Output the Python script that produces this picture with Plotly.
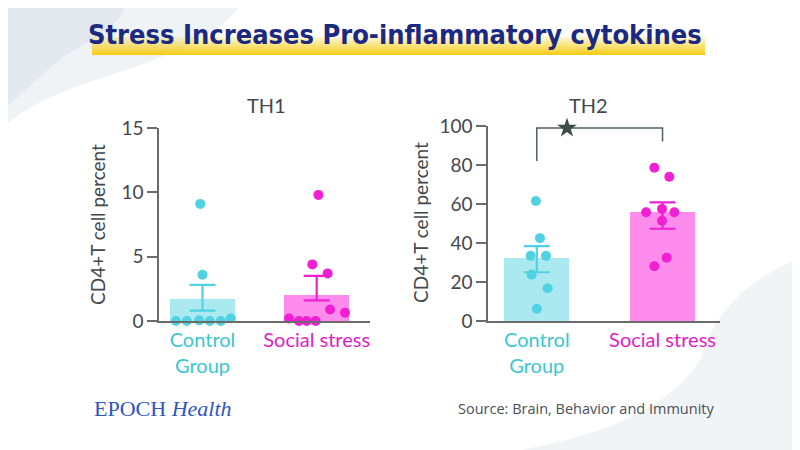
import plotly.graph_objects as go

# TH1 panel (percent of CD4+T cells)
groups = ["Control Group", "Social stress"]
th1_means = [1.7, 2.0]
th1_err_up = [1.1, 1.5]
th1_err_down = [0.9, 0.4]
th1_control_pts = [9.1, 3.6, 0.0, 0.0, 0.05, 0.0, 0.0, 0.2]
th1_control_jitter = [-0.02, 0.0, -0.233, -0.137, -0.029, 0.064, 0.16, 0.248]
th1_social_pts = [9.8, 4.4, 3.7, 0.9, 0.65, 0.2, 0.0, 0.0, 0.0]
th1_social_jitter = [0.015, -0.038, 0.096, 0.117, 0.248, -0.242, -0.155, -0.088, -0.009]

# TH2 panel
th2_means = [32.4, 55.9]
th2_err_up = [6.0, 4.9]
th2_err_down = [7.4, 8.6]
th2_control_pts = [61.5, 42.5, 33.4, 33.4, 23.8, 16.8, 6.3]
th2_control_jitter = [-0.007, 0.025, -0.049, 0.073, -0.041, 0.086, 0.0]
th2_social_pts = [78.6, 74.0, 55.8, 57.5, 55.8, 51.4, 28.1, 32.5]
th2_social_jitter = [-0.065, 0.054, -0.131, -0.004, 0.094, -0.004, -0.065, 0.033]

# significance bracket for TH2
bracket_x = [0, 0, 1, 1]
bracket_y = [82, 99, 99, 92]
star_x = [0.24]
star_y = [99]

CYAN_BAR = "#abe9f1"
CYAN = "#50d2e2"
CYAN_TXT = "#3cc6d0"
PINK_BAR = "#ff8cec"
PINK = "#f020d2"
PINK_TXT = "#e01ec4"
GREY = "#43484d"
FONT = "Lato"

# page body has an 8px margin, so the figure is a bit smaller and shifted
OFF = 8
W, H = 800 - OFF, 450 - OFF


def px(x):
    return (x - OFF) / W


def py(y):
    return 1 - (y - OFF) / H


fig = go.Figure()


def add_panel(xa, ya, means, up, down, ctrl, ctrl_j, soc, soc_j, bw):
    fig.add_trace(go.Bar(x=[0, 1], y=means, width=bw,
                         marker=dict(color=[CYAN_BAR, PINK_BAR], line_width=0),
                         xaxis=xa, yaxis=ya, showlegend=False))
    for i, c in enumerate([CYAN, PINK]):
        fig.add_trace(go.Scatter(x=[i], y=[means[i]], mode="markers",
                                 marker=dict(size=1, color="rgba(0,0,0,0)"),
                                 error_y=dict(type="data", symmetric=False,
                                              array=[up[i]], arrayminus=[down[i]],
                                              color=c, thickness=2.2, width=13),
                                 xaxis=xa, yaxis=ya, showlegend=False,
                                 cliponaxis=False))
    fig.add_trace(go.Scatter(x=[0 + j for j in ctrl_j], y=ctrl, mode="markers",
                             marker=dict(size=10, color=CYAN),
                             xaxis=xa, yaxis=ya, showlegend=False, cliponaxis=False))
    fig.add_trace(go.Scatter(x=[1 + j for j in soc_j], y=soc, mode="markers",
                             marker=dict(size=10, color=PINK),
                             xaxis=xa, yaxis=ya, showlegend=False, cliponaxis=False))


add_panel("x", "y", th1_means, th1_err_up, th1_err_down,
          th1_control_pts, th1_control_jitter, th1_social_pts, th1_social_jitter, 0.57)
add_panel("x2", "y2", th2_means, th2_err_up, th2_err_down,
          th2_control_pts, th2_control_jitter, th2_social_pts, th2_social_jitter, 0.517)

fig.add_trace(go.Scatter(x=bracket_x, y=bracket_y, mode="lines",
                         line=dict(color="#51605f", width=1.5),
                         xaxis="x2", yaxis="y2", showlegend=False, cliponaxis=False))
fig.add_trace(go.Scatter(x=star_x, y=star_y, mode="markers",
                         marker=dict(symbol="star", size=15, color="#3e4b4b"),
                         xaxis="x2", yaxis="y2", showlegend=False, cliponaxis=False))

ticktext = ["<span style='color:%s'>Control<br>Group</span>" % CYAN_TXT,
            "<span style='color:%s'>Social stress</span>" % PINK_TXT]

xcommon = dict(tickmode="array", tickvals=[0, 1], ticktext=ticktext,
               showline=True, linecolor="#6b6b6b", linewidth=1.5,
               showgrid=False, zeroline=False, ticks="", automargin=False,
               tickfont=dict(family=FONT, size=20))
ycommon = dict(showline=True, linecolor="#6b6b6b", linewidth=1.5,
               showgrid=False, zeroline=False, ticks="outside", ticklen=10,
               tickwidth=1.5, tickcolor="#6b6b6b", automargin=False,
               tickfont=dict(family=FONT, size=19, color=GREY))

# background decoration
shapes = [
    dict(type="path", xref="paper", yref="paper", layer="below", line_width=0,
         fillcolor="#eff3f6",
         path="M %f,%f L %f,%f C %f,%f %f,%f %f,%f C %f,%f %f,%f %f,%f Z" % (
             px(0), py(0), px(245), py(0), px(215), py(45), px(140), py(65),
             px(80), py(85), px(40), py(100), px(15), py(115), px(0), py(130))),
    dict(type="path", xref="paper", yref="paper", layer="below", line_width=0,
         fillcolor="#e3e9ef",
         path="M %f,%f L %f,%f C %f,%f %f,%f %f,%f C %f,%f %f,%f %f,%f Z" % (
             px(0), py(0), px(127), py(0), px(122), py(25), px(100), py(35),
             px(63), py(57), px(35), py(80), px(15), py(100), px(0), py(113))),
    dict(type="path", xref="paper", yref="paper", layer="below", line_width=0,
         fillcolor="#f1f4f7",
         path="M %f,%f Q %f,%f %f,%f Q %f,%f %f,%f L %f,%f Z" % (
             px(800), py(258), px(720), py(290), px(700), py(360),
             px(660), py(425), px(520), py(450), px(800), py(450))),
]

# yellow highlight under title (stacked strips to fake the gradient)
n_strips = 9
top, bottom = 37, 55
for k in range(n_strips):
    y0 = top + (bottom - top) * k / n_strips
    y1 = top + (bottom - top) * (k + 1) / n_strips
    shapes.append(dict(type="rect", xref="paper", yref="paper", layer="below",
                       x0=px(92), x1=px(705), y0=py(y1), y1=py(y0),
                       line_width=0, fillcolor="#f6cf1e",
                       opacity=0.12 + 0.88 * (k + 1) / n_strips))


def label(text, x, y, size, color, family=FONT, xanchor="center", angle=0):
    return dict(text=text, x=px(x), y=py(y), xref="paper", yref="paper",
                xanchor=xanchor, yanchor="middle", showarrow=False,
                textangle=angle, font=dict(family=family, size=size, color=color))


annotations = [
    label("<b>Stress Increases Pro-inflammatory cytokines</b>", 395, 34, 27,
          "#1b2a80", family="DejaVu Sans Condensed"),
    label("TH1", 266, 105, 20, GREY),
    label("TH2", 588, 105, 20, GREY),
    label("CD4+T cell percent", 97, 225, 19, GREY, angle=-90),
    label("CD4+T cell percent", 420, 223, 19, GREY, angle=-90),
    label("EPOCH <i>Health</i>", 92, 408, 22, "#2f55c0",
          family="Liberation Serif", xanchor="left"),
    label("Source: Brain, Behavior and Immunity", 456, 408, 14.5, "#4a4f55",
          family="Open Sans", xanchor="left"),
]

fig.update_layout(
    width=W, height=H,
    margin=dict(l=0, r=0, t=0, b=0, autoexpand=False),
    paper_bgcolor="white", plot_bgcolor="rgba(0,0,0,0)",
    xaxis=dict(domain=[px(159), px(370)], range=[-0.381, 1.467], anchor="y", **xcommon),
    yaxis=dict(domain=[py(321), py(128)], range=[0, 15], anchor="x",
               tickvals=[0, 5, 10, 15], **ycommon),
    xaxis2=dict(domain=[px(488), px(720)], range=[-0.388, 1.457], anchor="y2", **xcommon),
    yaxis2=dict(domain=[py(321), py(126)], range=[0, 100], anchor="x2",
                tickvals=[0, 20, 40, 60, 80, 100], **ycommon),
    shapes=shapes,
    annotations=annotations,
    bargap=0,
)

fig.write_html("out.html")
